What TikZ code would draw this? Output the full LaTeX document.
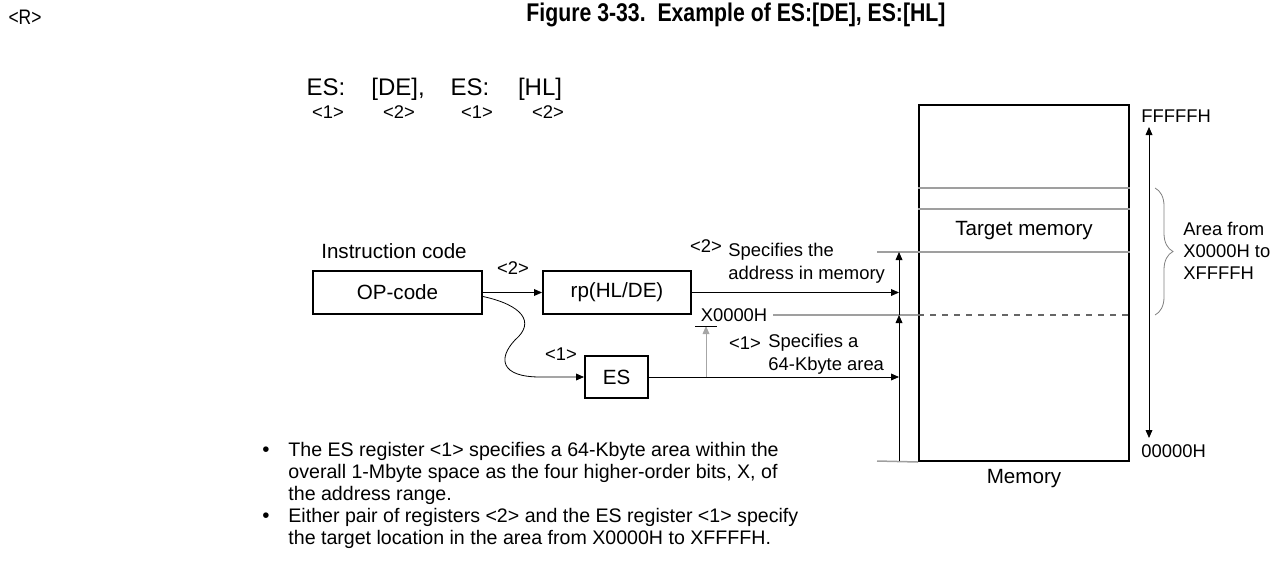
\documentclass[tikz,border=0pt]{standalone}
\usepackage{fontspec}
\setmainfont{Liberation Sans}
\newfontfamily\narrowfont[FakeStretch=0.83]{Liberation Sans}
\usetikzlibrary{arrows.meta, decorations.pathreplacing}

\begin{document}
\begin{tikzpicture}[x=0.5pt, y=-0.5pt, >={Triangle[length=4pt,width=3.4pt]}, font=\fontsize{10.3}{12}\selectfont]
\tikzset{
  regbox/.style={draw, line width=1pt, minimum height=21.5pt, inner sep=0pt},
  small/.style={font=\fontsize{9.2}{11}\selectfont, inner sep=0pt},
  operand/.style={font=\fontsize{12}{14}\selectfont, anchor=base, inner sep=0pt},
  note/.style={anchor=north west, align=left, inner sep=0pt, font=\fontsize{9.8}{11}\selectfont},
  sepline/.style={gray!75, line width=0.75pt},
}
\useasboundingbox (0,0) rectangle (1272,562);
% Title
\node[font=\narrowfont\fontsize{10.5}{12}\selectfont] (rmark) at (25,17) {<R>};
\node[font=\narrowfont\bfseries\fontsize{12.8}{14}\selectfont] (title) at (736,15) {Figure 3-33.\ \ Example of ES:[DE], ES:[HL]};
% Operand line
\node[operand] (esa) at (326,95) {ES:};
\node[operand] (de) at (398,95) {[DE],};
\node[operand] (esb) at (470,95) {ES:};
\node[operand] (hl) at (540,95) {[HL]};
\node[small] (na) at (328,112) {<1>};
\node[small] (nb) at (399,112) {<2>};
\node[small] (nc) at (477,112) {<1>};
\node[small] (nd) at (548,112) {<2>};
% Instruction code and registers
\node (inscode) at (394,251) {Instruction code};
\node[regbox, minimum width=84.5pt] (opcode) at (397.5,292.5) {OP-code};
\node[regbox, minimum width=74pt] (rp) at (617,292.5) {rp(HL/DE)};
\node[regbox, minimum width=31.5pt, minimum height=21pt] (es) at (616.5,377) {ES};
\draw[->] (opcode) -- (rp);
\node[small] (lbltwo) at (513,268) {<2>};
\coordinate (bend) at (515,340);
\draw[->] ([yshift=-2pt]opcode.east) .. controls (522,305) and (536,322) .. (bend) .. controls (498,358) and (500,377) .. (540,377) -- (es.west);
\node[small] (lblone) at (561,354) {<1>};
% Memory
\node[draw, line width=1pt, minimum width=105pt, minimum height=178pt, inner sep=0pt] (mem) at (1024,283) {};
\draw[sepline] (mem.west |- 0,188) -- (mem.east |- 0,188);
\draw[sepline] (mem.west |- 0,209) -- (mem.east |- 0,209);
\node (target) at (1024,231) {Target memory};
\coordinate (vt) at (899,252);
\coordinate (vm) at (899,315);
\coordinate (vb) at (899,461);
\coordinate (topl) at (877,252);
\coordinate (xl) at (773,315);
\coordinate (botl) at (877,461);
\draw[sepline] (topl) -- (mem.east |- topl);
\draw[sepline] (xl) -- (mem.west |- xl);
\draw[sepline, black!60, dashed] (mem.west |- xl) -- (mem.east |- xl);
\draw[sepline] (botl) -- (mem.south west);
\draw[->] (vb) -- (vm);
\draw[->] (vm) -- (vt);
\draw[->] (rp.east) -- (rp.east -| vm);
\draw[->] (es.east) -- (es.east -| vm);
% X0000H marker
\coordinate (tb) at (706,326);
\draw[gray!70, ->] (es.east -| tb) -- (tb);
\draw ([xshift=-5.5pt]tb) -- ([xshift=5.5pt]tb);
\node[small] (xlbl) at (734,315) {X0000H};
\node[small] (lbltwob) at (706,246) {<2>};
\node[small, anchor=west] (spectwo) at (728,252) {Specifies the};
\node[small, anchor=west] (spectwob) at (728,275) {address in memory};
\node[small] (lbloneb) at (745,343) {<1>};
\node[small, anchor=west] (specone) at (768,343) {Specifies a};
\node[small, anchor=west] (speconeb) at (768,366) {64-Kbyte area};
% Address range
\node[small, anchor=west] (fff) at (1141,116) {FFFFFH};
\node[small, anchor=west] (zzz) at (1141,451) {00000H};
\coordinate (rt) at (1149,127);
\coordinate (rb) at (1149,438);
\draw[<->] (rt) -- (rb);
\draw[gray, decorate, decoration={brace, amplitude=9pt}] (1155,188) -- (1155,315);
\node[small, anchor=west, align=left, font=\fontsize{9.2}{11}\selectfont] (area) at (1183,251) {Area from\\X0000H to\\XFFFFH};
\node (memlbl) at (1024,479) {Memory};
% Notes
\node[font=\fontsize{10.3}{11}\selectfont] (bulone) at (266,452) {\textbullet};
\node[font=\fontsize{10.3}{11}\selectfont] (bultwo) at (266,518) {\textbullet};
\node[note] (noteone) at (288,442) {The ES register <1> specifies a 64-Kbyte area within the\\overall 1-Mbyte space as the four higher-order bits, X, of\\the address range.};
\node[note] (notetwo) at (288,508) {Either pair of registers <2> and the ES register <1> specify\\the target location in the area from X0000H to XFFFFH.};
\end{tikzpicture}
\end{document}
